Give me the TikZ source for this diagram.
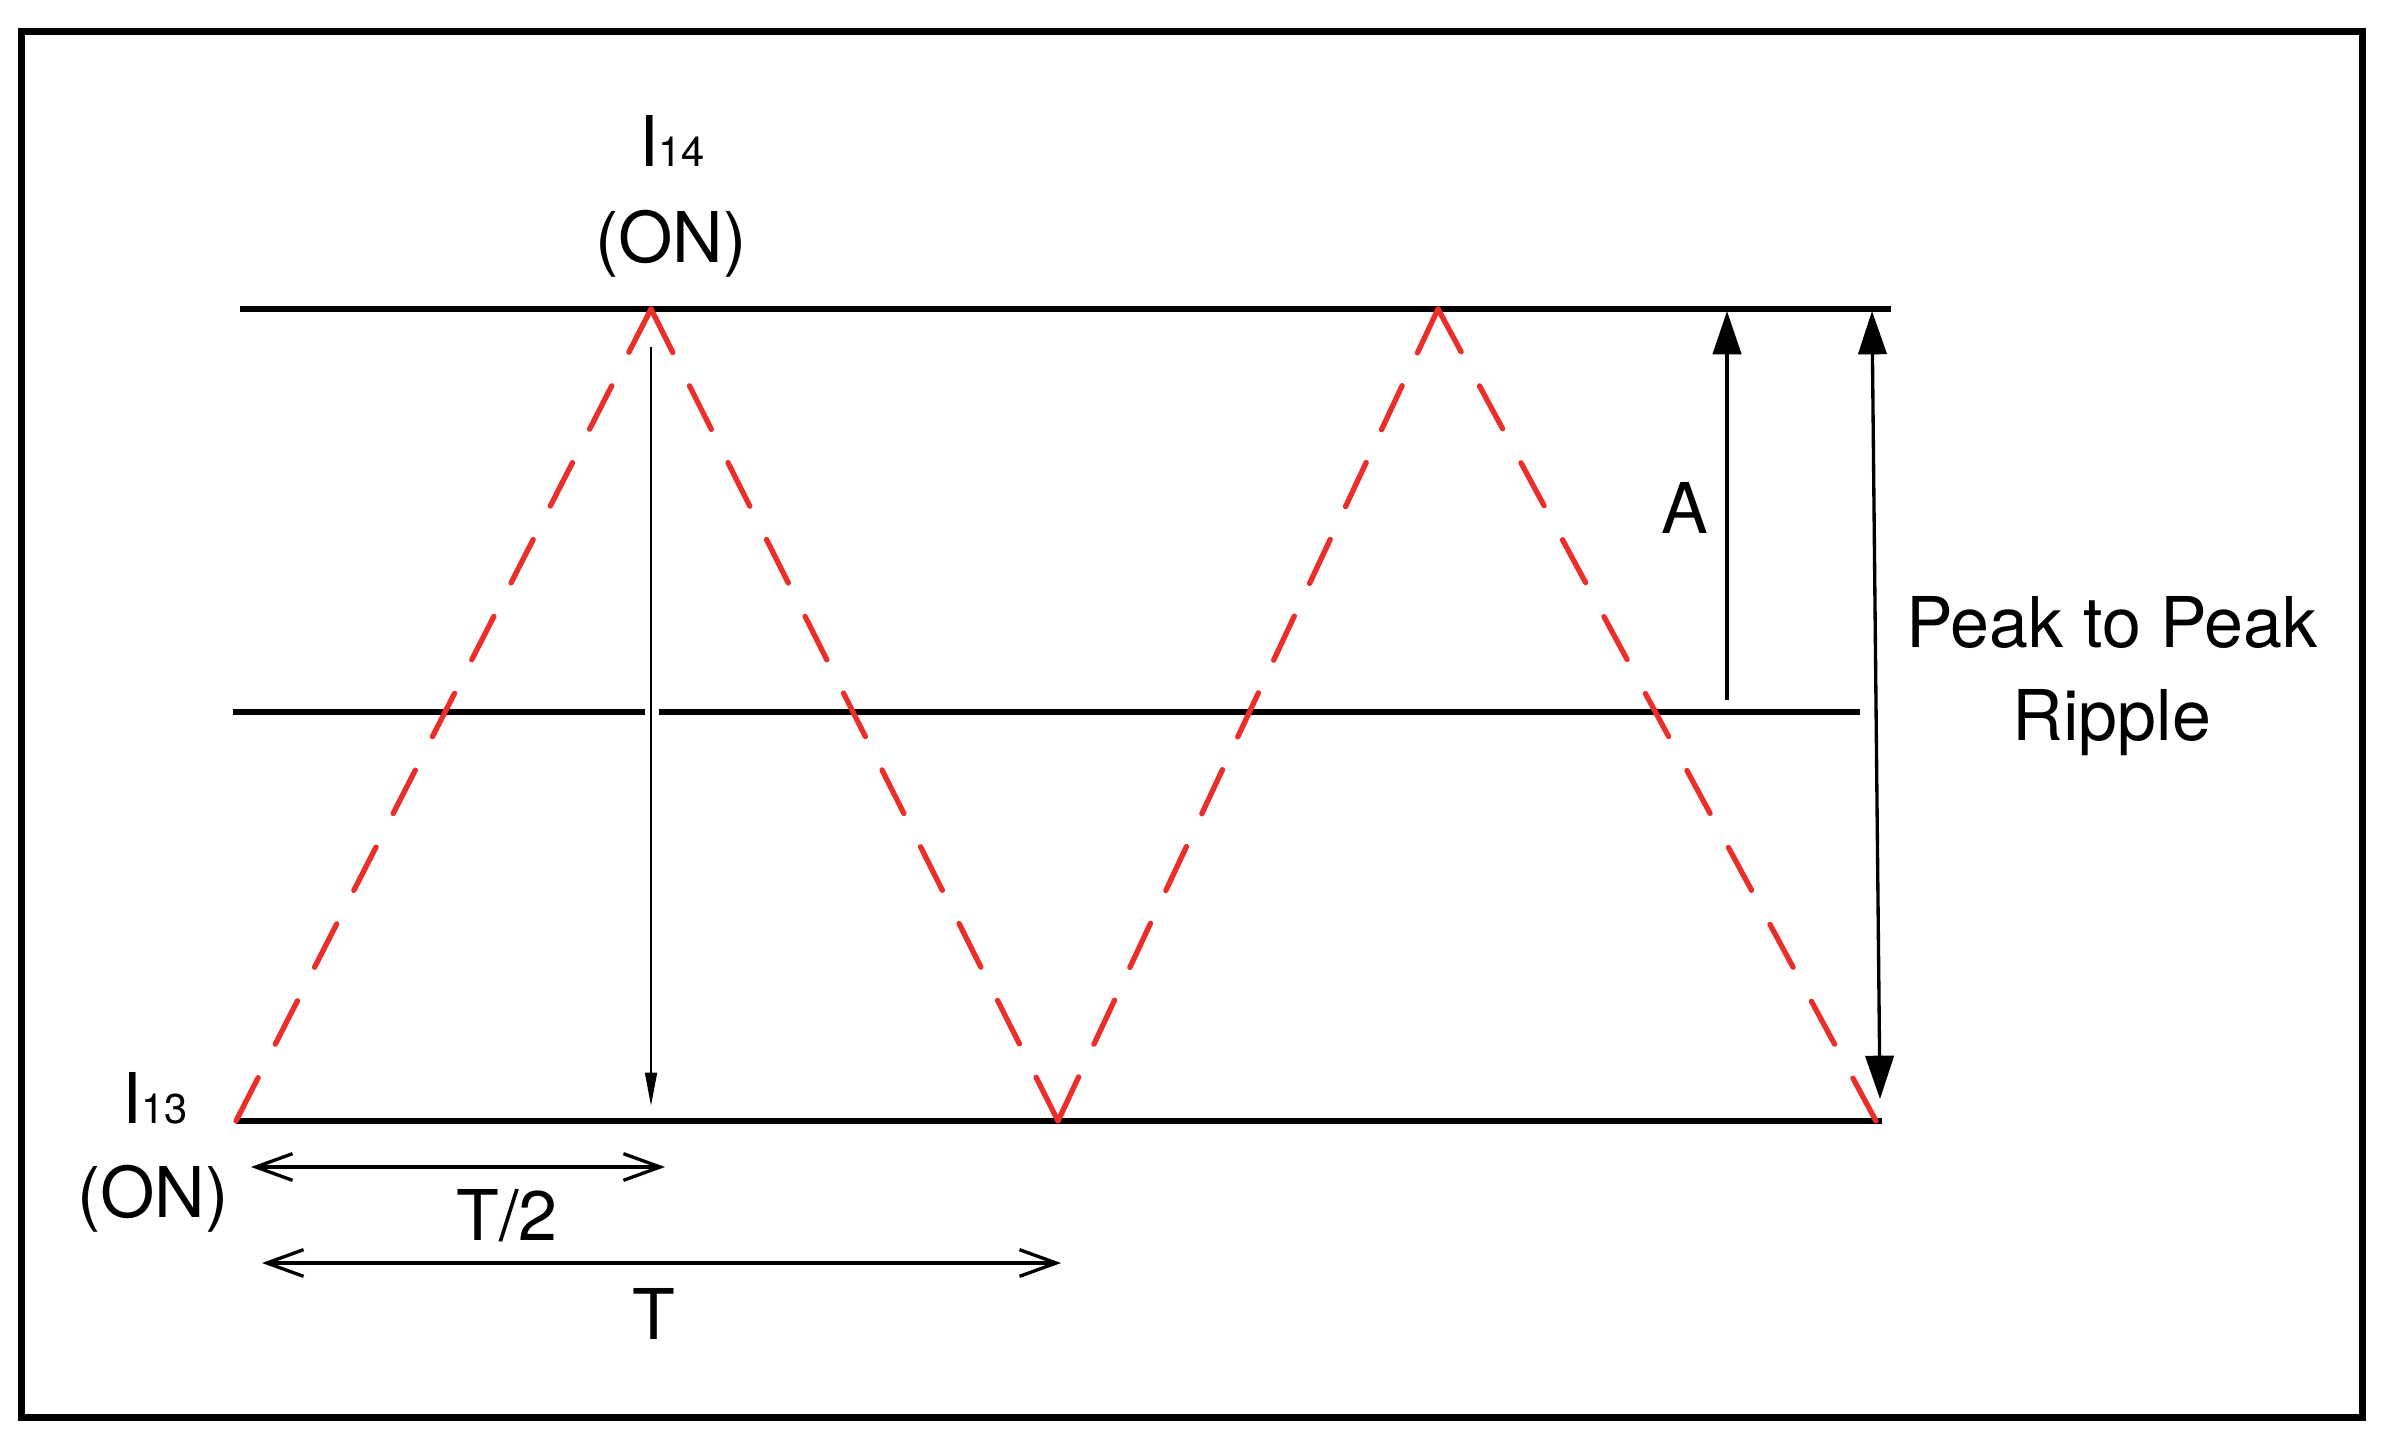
\documentclass[tikz,border=0pt]{standalone}
\usepackage{fontspec}
\setmainfont{TeX Gyre Heros}
\usepackage{xcolor}
\usetikzlibrary{arrows.meta}

\definecolor{ripplered}{RGB}{236,45,40}
\newcommand{\lblfont}{\fontsize{21}{25}\selectfont}
\newcommand{\subfont}{\fontsize{12.5}{14}\selectfont}

\tikzset{
  level/.style={line width=2pt},
  ripple/.style={draw=ripplered, line width=1.6pt, line cap=round, dash pattern=on 14.6pt off #1},
  drop/.style={line width=0.8pt, -{Triangle[length=10pt,width=3.5pt]}},
  span/.style={line width=1pt, {Straight Barb[length=11pt,width=8pt]}-{Straight Barb[length=11pt,width=8pt]}},
  amp/.style={line width=1pt, -{Triangle[length=13pt,width=8.5pt]}},
  ptp/.style={line width=1pt, {Triangle[length=13pt,width=8.5pt]}-{Triangle[length=13pt,width=8.5pt]}},
  lbl/.style={inner sep=0pt, anchor=base, font=\lblfont}
}

\begin{document}
\begin{tikzpicture}[x=0.3pt,y=0.3pt,yscale=-1,xscale=1]
\useasboundingbox (0,0) rectangle (2386,1448);
\draw[line width=2.1pt] (21,32) rectangle (2362,1417);

\coordinate (topL) at (240,309);
\coordinate (topR) at (1891,309);
\coordinate (midL) at (233,712);
\coordinate (midG1) at (645,712);
\coordinate (midG2) at (659,712);
\coordinate (midR) at (1860,712);
\coordinate (botL) at (236,1121);
\coordinate (botR) at (1882,1121);

\coordinate (lo1) at (236,1121);
\coordinate (hi1) at (651,309);
\coordinate (lo2) at (1058,1121);
\coordinate (hi2) at (1438,309);
\coordinate (lo3) at (1876,1121);

\draw[level] (topL) -- (topR);
\draw[level] (midL) -- (midG1);
\draw[level] (midG2) -- (midR);
\draw[level] (botL) -- (botR);

\draw[ripple=11.30pt] (lo1) -- (hi1);
\draw[ripple=11.18pt] (hi1) -- (lo2);
\draw[ripple=10.84pt] (lo2) -- (hi2);
\draw[ripple=11.62pt] (hi2) -- (lo3);

\coordinate (dropS) at (651,347);
\coordinate (dropE) at (651,1106);
\draw[drop] (dropS) -- (dropE);

\coordinate (ampS) at (1727,700);
\coordinate (ampE) at (1727,311);
\draw[amp] (ampS) -- (ampE);

\coordinate (ptpT) at (1872,311);
\coordinate (ptpB) at (1880,1099);
\draw[ptp] (ptpT) -- (ptpB);

\coordinate (halfS) at (251,1167);
\coordinate (halfE) at (665,1167);
\draw[span] (halfS) -- (halfE);
\coordinate (perS) at (262,1263);
\coordinate (perE) at (1061,1263);
\draw[span] (perS) -- (perE);

\node[lbl] (i14) at (672,167) {I{\subfont 14}};
\node[lbl] (on14) at (671,262) {(ON)};
\node[lbl] (i13) at (155,1123) {I{\subfont 13}};
\node[lbl] (on13) at (153,1217) {(ON)};
\node[lbl] (half) at (507,1240) {T/2};
\node[lbl] (per) at (654,1339) {T};
\node[lbl] (ampl) at (1685,533) {A};
\node[lbl] (pk) at (2112,647) {Peak to Peak};
\node[lbl] (rp) at (2112,740) {Ripple};
\end{tikzpicture}
\end{document}
